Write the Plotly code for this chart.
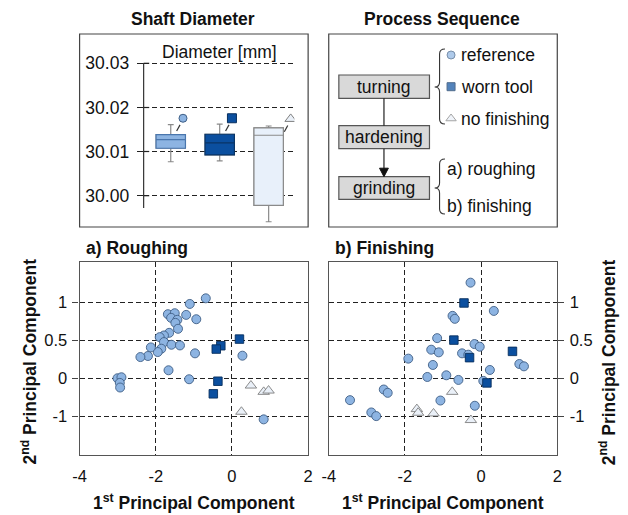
import plotly.graph_objects as go

W, H = 628, 515
FONT = "Liberation Sans, Arial, sans-serif"

# ---------------- data ----------------
box_groups = ["reference", "worn tool", "no finishing"]
box_q1 = [30.01075, 30.00923, 29.99782]
box_median = [30.0127, 30.01195, 30.0137]
box_q3 = [30.01383, 30.01392, 30.01535]
box_lower = [30.0077, 30.00787, 29.9941]
box_upper = [30.0161, 30.0162, 30.0158]
box_outlier = [30.01755, 30.01755, 30.0174]
outlier_offset = [0.25, 0.25, 0.45]
diam_ticks = [30.00, 30.01, 30.02, 30.03]

rough_ref_x = [-0.687, -1.107, -1.682, -1.502, -1.597, -1.433, -1.485, -1.202, -0.936, -1.416,
               -1.648, -1.785, -1.897, -1.785, -1.588, -1.365, -1.854, -1.948, -2.129, -2.206,
               -2.403, -0.970, 0.275, -1.665, -1.124, -3.004, -2.901, -2.944, -2.936, 0.833]
rough_ref_y = [1.052, 0.978, 0.843, 0.856, 0.795, 0.769, 0.729, 0.834, 0.777, 0.651,
               0.598, 0.563, 0.541, 0.476, 0.441, 0.432, 0.389, 0.345, 0.406, 0.293,
               0.279, 0.328, 0.297, 0.105, -0.013, 0.0, 0.013, -0.061, -0.122, -0.541]
rough_worn_x = [0.197, -0.292, -0.412, -0.369, -0.489]
rough_worn_y = [0.515, 0.428, 0.384, -0.039, -0.205]
rough_nof_x = [0.498, 0.833, 0.961, 0.249]
rough_nof_y = [-0.096, -0.179, -0.162, -0.441]

fin_ref_x = [-0.277, 0.334, -0.750, -0.690, -1.154, -1.309, -1.111, -1.911, -0.174, -0.036,
             -0.500, -0.337, -1.266, 0.230, 1.004, 1.125, -1.412, -0.913, -0.595, 0.058,
             -2.555, -2.452, -3.441, -1.068, -0.165, -2.882, -2.753]
fin_ref_y = [1.258, 0.886, 0.821, 0.782, 0.528, 0.376, 0.341, 0.258, 0.450, 0.415,
             0.328, 0.310, 0.175, 0.109, 0.188, 0.157, 0.017, 0.039, -0.022, -0.035,
             -0.148, -0.192, -0.288, -0.293, -0.362, -0.450, -0.498]
fin_worn_x = [-0.449, -0.715, -0.303, 0.824, 0.153]
fin_worn_y = [0.991, 0.502, 0.271, 0.354, -0.061]
fin_nof_x = [-0.758, -1.687, -1.653, -1.249, -0.268]
fin_nof_y = [-0.179, -0.406, -0.454, -0.463, -0.550]

pc1_ticks = [-4, -2, 0, 2]
pc1_ticktext = ["-4", "-2", "0", "2"]
pc2_tickvals = [-0.5, 0, 0.5, 1]
pc2_ticktext = ["-1", "0", "0.5", "1"]

process_steps = ["turning", "hardening", "grinding"]
variant_labels = ["reference", "worn tool", "no finishing"]
stage_labels = ["a) roughing", "b) finishing"]

# ---------------- styles ----------------
REF_FILL, REF_LINE = "#8db4e2", "#3f5f86"
WORN_FILL, WORN_LINE = "#0b4f9f", "#082f5e"
NOF_FILL, NOF_LINE = "#eaf0f8", "#7f7f7f"
BOX_FILL = [REF_FILL, WORN_FILL, "#e8f0fa"]
BOX_LINE = ["#4a76ad", "#0a3566", "#8a8a8a"]
WHISK = "#8a8a8a"
GRID = "#222222"
DASH = "5px,3px"

fig = go.Figure()

# ---------------- box plot ----------------
for i in range(3):
    fig.add_trace(go.Box(x=[i], q1=[box_q1[i]], median=[box_median[i]], q3=[box_q3[i]],
                         lowerfence=[box_lower[i]], upperfence=[box_upper[i]],
                         width=0.6, whiskerwidth=0.2, boxpoints=False,
                         fillcolor="rgba(0,0,0,0)", line=dict(color=WHISK, width=1.2),
                         xaxis="x", yaxis="y", showlegend=False, hoverinfo="skip"))
    fig.add_trace(go.Box(x=[i], q1=[box_q1[i]], median=[box_median[i]], q3=[box_q3[i]],
                         lowerfence=[box_q1[i]], upperfence=[box_q3[i]],
                         width=0.6, whiskerwidth=0, boxpoints=False,
                         fillcolor=BOX_FILL[i], line=dict(color=BOX_LINE[i], width=1.2),
                         xaxis="x", yaxis="y", showlegend=False, hoverinfo="skip"))

out_sym = ["circle", "square", "triangle-up"]
out_fill = [REF_FILL, WORN_FILL, NOF_FILL]
out_line = [REF_LINE, WORN_LINE, NOF_LINE]
out_size = [8, 9, 10]
for i in range(3):
    ox = i + outlier_offset[i]
    fig.add_trace(go.Scatter(x=[ox - 0.13, ox - 0.06], y=[box_outlier[i] - 0.0029, box_outlier[i] - 0.0015],
                             mode="lines", line=dict(color="#333", width=1.2),
                             xaxis="x", yaxis="y", showlegend=False, hoverinfo="skip"))
    fig.add_trace(go.Scatter(x=[ox], y=[box_outlier[i]], mode="markers",
                             marker=dict(symbol=out_sym[i], size=out_size[i], color=out_fill[i],
                                         line=dict(color=out_line[i], width=1)),
                             xaxis="x", yaxis="y", showlegend=False, hoverinfo="skip"))

# ---------------- scatter panels ----------------
def add_pca(xr, yr, xw, yw, xn, yn, xa, ya):
    fig.add_trace(go.Scatter(x=xr, y=yr, mode="markers", xaxis=xa, yaxis=ya, showlegend=False,
                             marker=dict(symbol="circle", size=9, color=REF_FILL,
                                         line=dict(color=REF_LINE, width=0.9))))
    fig.add_trace(go.Scatter(x=xw, y=yw, mode="markers", xaxis=xa, yaxis=ya, showlegend=False,
                             marker=dict(symbol="square", size=8.5, color=WORN_FILL,
                                         line=dict(color=WORN_LINE, width=0.9))))
    fig.add_trace(go.Scatter(x=xn, y=yn, mode="markers", xaxis=xa, yaxis=ya, showlegend=False,
                             marker=dict(symbol="triangle-up", size=10, color=NOF_FILL,
                                         line=dict(color=NOF_LINE, width=0.9))))

add_pca(rough_ref_x, rough_ref_y, rough_worn_x, rough_worn_y, rough_nof_x, rough_nof_y, "x2", "y2")
add_pca(fin_ref_x, fin_ref_y, fin_worn_x, fin_worn_y, fin_nof_x, fin_nof_y, "x3", "y3")

# ---------------- process legend markers (pixel overlay axis) ----------------
fig.add_trace(go.Scatter(x=[452.7, 452.7, 452.7], y=[55, 86.7, 118.5], mode="markers",
                         xaxis="x4", yaxis="y4", showlegend=False, hoverinfo="skip",
                         marker=dict(symbol=["circle", "square", "triangle-up"], size=[8, 8, 9],
                                     color=[REF_FILL, WORN_FILL, NOF_FILL],
                                     line=dict(color=[REF_LINE, WORN_LINE, NOF_LINE], width=1))))

def px(x0, x1):
    return [x0 / W, x1 / W]

def py(top, bottom):
    return [1 - bottom / H, 1 - top / H]

tickfont = dict(family=FONT, size=16.5, color="#111")

layout = dict(
    width=W, height=H, margin=dict(l=0, r=0, t=0, b=0),
    paper_bgcolor="white", plot_bgcolor="rgba(0,0,0,0)",
    font=dict(family=FONT, color="#111"),
    boxmode="overlay",
    xaxis=dict(domain=px(139.3, 293), range=[-0.554, 2.526], visible=False),
    yaxis=dict(domain=py(34, 227), range=[29.99291, 30.03664], tickvals=diam_ticks,
               tickformat=".2f", showgrid=True, gridcolor=GRID, griddash=DASH, gridwidth=1,
               zeroline=False, showline=False, ticks="outside", ticklen=6, tickcolor="#222",
               tickfont=dict(family=FONT, size=17.5, color="#111"), ticklabelstandoff=4),
    xaxis2=dict(domain=px(74, 307), range=[-4, 2], tickvals=pc1_ticks, ticktext=pc1_ticktext,
                anchor="y2", showgrid=True, gridcolor=GRID, griddash=DASH, zeroline=False,
                showline=True, mirror=True, linecolor="#555", linewidth=1.2, ticks="",
                tickfont=tickfont, ticklabelstandoff=6),
    yaxis2=dict(domain=py(262, 455), range=[-1.01, 1.53], tickvals=pc2_tickvals,
                ticktext=pc2_ticktext, anchor="x2",
                showgrid=True, gridcolor=GRID, griddash=DASH, zeroline=False,
                showline=True, mirror=True, linecolor="#555", linewidth=1.2,
                ticks="outside", ticklen=6, tickcolor="#444", tickfont=tickfont,
                ticklabelstandoff=2),
    xaxis3=dict(domain=px(328, 561), range=[-4, 2], tickvals=pc1_ticks, ticktext=pc1_ticktext,
                anchor="y3", showgrid=True, gridcolor=GRID, griddash=DASH, zeroline=False,
                showline=True, mirror=True, linecolor="#555", linewidth=1.2, ticks="",
                tickfont=tickfont, ticklabelstandoff=6),
    yaxis3=dict(domain=py(262, 455), range=[-1.01, 1.53], tickvals=pc2_tickvals,
                ticktext=pc2_ticktext, anchor="x3", side="right",
                showgrid=True, gridcolor=GRID, griddash=DASH, zeroline=False,
                showline=True, mirror=True, linecolor="#555", linewidth=1.2,
                ticks="outside", ticklen=6, tickcolor="#444", tickfont=tickfont,
                ticklabelstandoff=2),
    xaxis4=dict(domain=[0, 1], range=[0, W], visible=False, anchor="y4"),
    yaxis4=dict(domain=[0, 1], range=[H, 0], visible=False, anchor="x4"),
)
fig.update_layout(**layout)

shapes = []
def pshape(**kw):
    d = dict(xref="x4", yref="y4")
    d.update(kw)
    shapes.append(d)

# panel frames
pshape(type="rect", x0=74, x1=307, y0=34, y1=227, line=dict(color="#444", width=1.2))
pshape(type="rect", x0=328, x1=561, y0=34, y1=227, line=dict(color="#444", width=1.2))
# diameter axis line
pshape(type="line", x0=139.3, x1=139.3, y0=63, y1=208, line=dict(color="#333", width=1.2))
for yv in [63.3, 107.5, 151.5, 195.7]:
    pshape(type="line", x0=139.3, x1=145, y0=yv, y1=yv, line=dict(color="#222", width=1.2))

# process boxes
box_rows = [(75, 98.3), (125.7, 148.7), (176.7, 199.3)]
for (t, b) in box_rows:
    pshape(type="rect", x0=338.3, x1=430.7, y0=t, y1=b, fillcolor="#d9d9d9",
           line=dict(color="#555", width=1.2), layer="below")
pshape(type="line", x0=384.3, x1=384.3, y0=98.3, y1=125.7, line=dict(color="#222", width=1.2))
pshape(type="line", x0=384.3, x1=384.3, y0=148.7, y1=169, line=dict(color="#222", width=1.2))
pshape(type="path", path="M379.8,168.2 L388.8,168.2 L384.3,176.7 Z", fillcolor="#111",
       line=dict(color="#111", width=1))

def brace(yt, ym, yb, xv=441.0, xe=446.5, xt=436.0, r=5.0):
    return (f"M{xe},{yt} Q{xv},{yt} {xv},{yt + r} L{xv},{ym - r} "
            f"Q{xv},{ym} {xt},{ym} Q{xv},{ym} {xv},{ym + r} L{xv},{yb - r} Q{xv},{yb} {xe},{yb}")

pshape(type="path", path=brace(49, 87, 124), line=dict(color="#333", width=1.1))
pshape(type="path", path=brace(159, 188, 214), line=dict(color="#333", width=1.1))

fig.update_layout(shapes=shapes)

ann = []
def txt(x, y, s, size=17.5, bold=False, xanchor="center", angle=0):
    ann.append(dict(x=x, y=y, xref="x4", yref="y4", text=(f"<b>{s}</b>" if bold else s),
                    showarrow=False, xanchor=xanchor, yanchor="middle", textangle=angle,
                    font=dict(family=FONT, size=size, color="#111")))

txt(190, 19, "Shaft Diameter", bold=True)
txt(443, 19, "Process Sequence", bold=True)
txt(217, 52, "Diameter [mm]")
txt(78, 248, "a) Roughing", bold=True, xanchor="left")
txt(332, 248, "b) Finishing", bold=True, xanchor="left")
txt(191, 502, "1<sup>st</sup> Principal Component", bold=True)
txt(444, 502, "1<sup>st</sup> Principal Component", bold=True)
txt(22, 362, "2<sup>nd</sup> Principal Component", bold=True, angle=-90)
txt(612, 362, "2<sup>nd</sup> Principal Component", bold=True, angle=-90)

for (t, b), s in zip(box_rows, process_steps):
    txt(384.5, (t + b) / 2, s)
for yv, s in zip([55, 86.7, 118.5], variant_labels):
    txt(461, yv, s, xanchor="left")
for yv, s in zip([169.3, 205.7], stage_labels):
    txt(446.5, yv, s, xanchor="left")

fig.update_layout(annotations=ann)
fig.write_html("out.html")
